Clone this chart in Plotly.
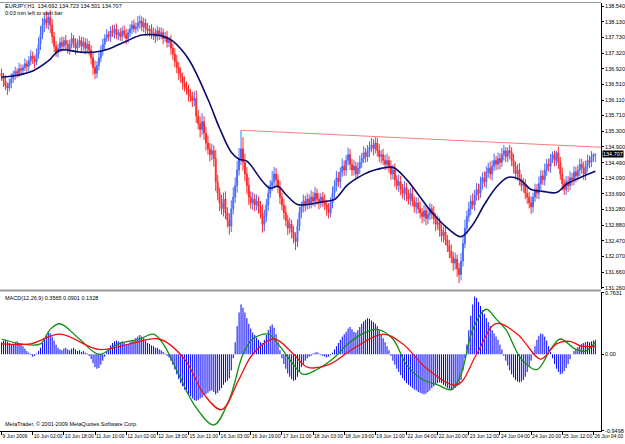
import plotly.graph_objects as go

# ---------------- data ----------------
closes = [
    136.72, 136.60, 136.48, 136.42, 136.55, 136.66, 136.78, 136.85, 136.80, 136.92,
    136.88, 136.95, 137.05, 136.98, 137.12, 137.25, 137.18, 137.10, 137.30, 137.55,
    137.80, 138.05, 138.20, 138.10, 138.25, 138.05, 137.75, 137.50, 137.35, 137.45,
    137.60, 137.50, 137.65, 137.55, 137.40, 137.55, 137.70, 137.60, 137.45, 137.55,
    137.65, 137.50, 137.60, 137.45, 137.55, 137.40, 137.20, 136.95, 136.80, 137.00,
    137.20, 137.40, 137.55, 137.70, 137.80, 137.75, 137.90, 137.85, 137.95, 137.80,
    137.85, 137.75, 137.90, 137.80, 137.70, 137.85, 137.95, 138.05, 137.95, 138.00,
    138.10, 138.15, 138.00, 138.10, 137.95, 137.90, 137.95, 137.80, 137.85, 137.75,
    137.90, 137.80, 137.85, 137.70, 137.75, 137.60, 137.65, 137.45, 137.30, 137.10,
    136.95, 136.80, 136.70, 136.55, 136.45, 136.40, 136.25, 136.20, 136.10, 136.15,
    135.70, 135.50, 135.35, 135.55, 135.25, 135.00, 134.85, 134.70, 134.80, 134.60,
    134.00, 133.70, 133.45, 133.30, 133.55, 133.20, 133.00, 132.85, 133.30, 133.60,
    133.90, 134.30, 134.60, 134.85, 134.50, 134.20, 133.90, 133.60, 133.45, 133.55,
    133.40, 133.50, 133.35, 133.20, 132.90, 133.10, 133.40, 133.70, 133.90, 134.00,
    134.20, 134.05, 133.85, 133.60, 133.40, 133.20, 133.00, 132.80, 132.90, 132.70,
    132.55, 132.45, 132.85, 133.20, 133.35, 133.50, 133.40, 133.55, 133.45, 133.60,
    133.50, 133.70, 133.55, 133.45, 133.60, 133.50, 133.40, 133.30, 133.20, 133.45,
    133.70, 133.90, 134.10, 134.00, 134.25, 134.40, 134.30, 134.55, 134.70, 134.45,
    134.30, 134.40, 134.20, 134.35, 134.50, 134.60, 134.75, 134.65, 134.80, 134.90,
    134.95, 134.85, 135.00, 134.80, 134.65, 134.70, 134.55, 134.45, 134.55, 134.40,
    134.20, 134.30, 134.05, 133.90, 134.00, 133.80, 133.70, 133.85, 133.65, 133.55,
    133.70, 133.50, 133.35, 133.45, 133.30, 133.20, 133.10, 133.25, 133.05, 133.15,
    133.30, 133.20, 133.05, 132.90, 132.95, 132.75, 132.60, 132.70, 132.50, 132.35,
    132.20, 132.05, 131.90, 132.00, 131.75, 131.60, 131.95, 132.40, 132.80, 133.10,
    133.30, 133.50, 133.40, 133.65, 133.80, 133.70, 133.95, 134.10, 134.00, 134.25,
    134.35, 134.20, 134.40, 134.55, 134.45, 134.60, 134.50, 134.70, 134.80, 134.65,
    134.80, 134.75, 134.55, 134.40, 134.20, 134.30, 134.05, 133.90, 133.95, 133.70,
    133.60, 133.45, 133.35, 133.60, 133.80, 133.70, 133.95, 134.15, 134.05, 134.30,
    134.45, 134.40, 134.60, 134.70, 134.55, 134.75, 134.50, 134.20, 133.95, 133.80,
    134.00, 133.90, 134.10, 134.05, 134.25, 134.15, 134.30, 134.45, 134.35, 134.20,
    134.40, 134.55, 134.50, 134.65, 134.692, 134.707,
]
first_open = 136.80
# upper / lower wick length of each bar, in pips (0.01 JPY)
wick_up = [
    12, 9, 15, 8, 11, 14, 9, 12, 8, 15, 11, 8, 14, 9, 12, 15, 11, 8, 14, 18,
    22, 18, 15, 21, 12, 18, 15, 12, 14, 11, 12, 15, 9, 14, 11, 12, 15, 9, 11, 14,
    12, 9, 14, 11, 15, 9, 12, 14, 18, 11, 14, 12, 15, 11, 14, 9, 12, 15, 11, 14,
    9, 12, 11, 14, 15, 9, 12, 11, 14, 12, 18, 15, 12, 14, 11, 15, 9, 12, 14, 11,
    12, 9, 14, 11, 12, 15, 9, 14, 12, 15, 18, 14, 15, 12, 17, 14, 11, 15, 12, 18,
    21, 15, 18, 22, 14, 17, 20, 15, 18, 14, 22, 18, 15, 21, 17, 20, 14, 18, 22, 26,
    21, 24, 27, 48, 30, 22, 18, 21, 15, 18, 14, 17, 12, 15, 21, 18, 15, 20, 14, 28,
    18, 15, 14, 17, 12, 15, 18, 14, 17, 12, 15, 14, 18, 15, 12, 17, 14, 15, 12, 18,
    14, 17, 12, 15, 11, 14, 18, 12, 15, 14, 17, 14, 18, 15, 12, 20, 15, 14, 18, 15,
    14, 17, 12, 15, 18, 14, 17, 12, 15, 14, 18, 15, 15, 14, 17, 12, 15, 14, 18, 12,
    15, 14, 17, 12, 18, 15, 14, 17, 12, 15, 14, 17, 12, 15, 14, 18, 12, 15, 14, 17,
    15, 12, 17, 14, 18, 12, 15, 14, 17, 12, 15, 18, 14, 17, 12, 15, 21, 18, 22, 15,
    18, 15, 20, 14, 17, 15, 18, 14, 17, 15, 14, 17, 15, 18, 12, 15, 14, 17, 15, 9,
    9, 15, 14, 17, 12, 15, 18, 14, 15, 12, 15, 14, 17, 12, 15, 14, 18, 15, 14, 17,
    14, 15, 12, 8, 10, 5, 15, 14, 17, 12, 15, 14, 17, 12, 15, 14, 12, 15, 14, 17,
    14, 15, 12, 14, 5, 1.6,
]
wick_dn = [
    11, 15, 12, 18, 9, 14, 11, 15, 12, 9, 14, 11, 9, 15, 12, 11, 14, 17, 9, 12,
    15, 12, 18, 14, 17, 21, 18, 15, 12, 14, 11, 14, 12, 15, 9, 12, 11, 14, 17, 12,
    9, 14, 11, 15, 12, 14, 17, 18, 15, 12, 12, 11, 14, 15, 9, 12, 14, 11, 15, 12,
    14, 11, 12, 9, 15, 12, 11, 14, 9, 12, 12, 15, 11, 14, 18, 12, 15, 11, 14, 17,
    11, 14, 12, 15, 9, 14, 12, 17, 15, 14, 15, 18, 14, 17, 12, 15, 18, 14, 17, 15,
    18, 15, 21, 14, 17, 20, 15, 18, 14, 21, 24, 18, 21, 15, 20, 17, 18, 22, 15, 14,
    15, 18, 14, 17, 21, 18, 22, 20, 15, 18, 17, 14, 18, 15, 22, 18, 14, 15, 12, 14,
    14, 17, 15, 18, 14, 17, 15, 18, 14, 17, 15, 22, 14, 12, 15, 14, 17, 12, 15, 14,
    12, 15, 14, 17, 12, 15, 14, 18, 15, 12, 14, 12, 15, 14, 17, 12, 15, 14, 12, 15,
    15, 14, 17, 12, 15, 14, 12, 15, 14, 17, 14, 17, 12, 15, 14, 18, 12, 15, 14, 17,
    15, 14, 18, 12, 17, 15, 14, 18, 15, 14, 17, 14, 15, 18, 12, 15, 17, 14, 18, 15,
    14, 17, 15, 18, 14, 17, 15, 18, 14, 17, 18, 15, 20, 17, 21, 22, 15, 14, 12, 15,
    14, 17, 12, 15, 14, 18, 12, 15, 14, 17, 15, 14, 17, 12, 15, 14, 18, 12, 15, 14,
    14, 17, 15, 18, 14, 17, 15, 14, 18, 15, 17, 14, 18, 15, 12, 14, 15, 17, 14, 15,
    15, 14, 17, 12, 15, 14, 17, 15, 18, 14, 14, 17, 12, 15, 14, 17, 12, 15, 14, 15,
    17, 14, 15, 12, 14, 19.1,
]

# moving average (navy line), read at sample bars
ma_idx = [0, 8, 16, 24, 30, 40, 48, 55, 64, 72, 80, 84, 88, 96, 106, 112, 118, 122,
          126, 134, 138, 142, 146, 152, 157, 166, 171, 178, 186, 193, 201, 208, 214,
          222, 230, 236, 242, 248, 254, 260, 266, 272, 278, 285, 290, 295, 305]
ma_val = [136.70, 136.75, 136.86, 137.12, 137.40, 137.35, 137.35, 137.43, 137.63,
          137.79, 137.79, 137.74, 137.63, 137.17, 136.13, 135.38, 134.76, 134.58,
          134.53, 134.01, 133.83, 133.88, 133.67, 133.41, 133.41, 133.49, 133.54,
          133.93, 134.19, 134.32, 134.37, 134.06, 133.67, 133.15, 132.76, 132.58,
          132.89, 133.41, 133.85, 134.11, 134.06, 133.80, 133.75, 133.72, 133.93,
          134.06, 134.27]

# drawn trend line
trend_idx = [123, 308]
trend_val = [135.33, 134.89]

# MACD histogram (one value per bar)
macd_hist = [
    0.15, 0.17, 0.18, 0.16, 0.14, 0.12, 0.13, 0.15, 0.16, 0.14,
    0.12, 0.10, 0.07, 0.04, 0.02, -0.01, -0.03, -0.02, 0.01, 0.04,
    0.08, 0.14, 0.20, 0.24, 0.27, 0.26, 0.22, 0.17, 0.12, 0.08,
    0.06, 0.05, 0.07, 0.08, 0.06, 0.05, 0.07, 0.08, 0.06, 0.04,
    0.05, 0.03, 0.04, 0.02, 0.01, -0.02, -0.06, -0.11, -0.16, -0.18,
    -0.17, -0.13, -0.08, -0.03, 0.03, 0.07, 0.11, 0.14, 0.16, 0.17,
    0.16, 0.15, 0.16, 0.14, 0.12, 0.13, 0.15, 0.17, 0.18, 0.20,
    0.22, 0.24, 0.22, 0.20, 0.17, 0.14, 0.13, 0.11, 0.10, 0.08,
    0.08, 0.06, 0.05, 0.03, 0.01, -0.02, -0.04, -0.08, -0.13, -0.19,
    -0.25, -0.31, -0.36, -0.40, -0.44, -0.47, -0.50, -0.52, -0.55, -0.57,
    -0.58, -0.57, -0.55, -0.54, -0.51, -0.50, -0.48, -0.46, -0.45, -0.47,
    -0.50, -0.48, -0.45, -0.42, -0.38, -0.35, -0.33, -0.30, -0.20, -0.05,
    0.15, 0.35, 0.52, 0.62, 0.58, 0.52, 0.45, 0.38, 0.32, 0.27,
    0.24, 0.21, 0.18, 0.15, 0.14, 0.18, 0.24, 0.30, 0.35, 0.37,
    0.33, 0.25, 0.15, 0.05, -0.05, -0.12, -0.18, -0.24, -0.28, -0.31,
    -0.33, -0.32, -0.28, -0.22, -0.16, -0.12, -0.08, -0.05, -0.03, -0.02,
    0.01, 0.02, 0.03, 0.01, -0.01, -0.02, -0.03, -0.04, -0.03, -0.01,
    0.02, 0.06, 0.10, 0.14, 0.18, 0.22, 0.25, 0.28, 0.32, 0.34,
    0.31, 0.28, 0.27, 0.30, 0.34, 0.38, 0.41, 0.43, 0.45, 0.44,
    0.42, 0.40, 0.38, 0.35, 0.30, 0.25, 0.20, 0.15, 0.10, 0.05,
    -0.02, -0.08, -0.13, -0.18, -0.22, -0.26, -0.30, -0.33, -0.36, -0.38,
    -0.40, -0.42, -0.44, -0.45, -0.47, -0.48, -0.49, -0.50, -0.49, -0.47,
    -0.45, -0.42, -0.40, -0.38, -0.36, -0.35, -0.36, -0.38, -0.40, -0.42,
    -0.44, -0.45, -0.44, -0.42, -0.40, -0.38, -0.32, -0.20, -0.05, 0.12,
    0.30, 0.48, 0.62, 0.72, 0.70, 0.65, 0.60, 0.55, 0.50, 0.45,
    0.40, 0.35, 0.30, 0.26, 0.22, 0.18, 0.12, 0.06, -0.02, -0.08,
    -0.14, -0.20, -0.25, -0.29, -0.32, -0.34, -0.35, -0.34, -0.32, -0.28,
    -0.22, -0.15, -0.08, 0.02, 0.10, 0.18, 0.23, 0.26, 0.25, 0.22,
    0.17, 0.10, 0.03, -0.05, -0.12, -0.18, -0.22, -0.25, -0.24, -0.21,
    -0.17, -0.12, -0.06, 0.00, 0.04, 0.07, 0.09, 0.11, 0.13, 0.14,
    0.15, 0.16, 0.15, 0.16, 0.17, 0.18,
]

# MACD lines, read at sample bars
green_idx = [0, 10, 20, 25, 30, 40, 50, 60, 71, 78, 83, 91, 99, 109, 117, 124, 129,
             137, 142, 150, 155, 162, 170, 178, 185, 193, 201, 208, 216, 224, 231,
             236, 242, 249, 254, 259, 267, 275, 282, 287, 295, 300, 305]
green_val = [0.19, 0.13, 0.13, 0.31, 0.38, 0.19, 0.00, 0.13, 0.19, 0.25, 0.13, -0.25,
             -0.63, -0.88, -0.56, 0.00, 0.19, 0.25, 0.13, -0.13, -0.25, -0.19, -0.06,
             0.13, 0.25, 0.31, 0.19, -0.13, -0.31, -0.38, -0.44, -0.25, 0.31, 0.56,
             0.44, 0.31, -0.06, -0.19, 0.06, 0.19, 0.06, 0.04, 0.15]
red_idx = [0, 15, 30, 50, 66, 81, 94, 104, 113, 122, 129, 140, 150, 157, 168, 180,
           196, 206, 219, 234, 244, 254, 265, 277, 285, 292, 298, 305]
red_val = [0.13, 0.13, 0.25, 0.06, 0.13, 0.19, -0.06, -0.50, -0.69, -0.31, 0.00,
           0.19, 0.00, -0.16, -0.13, 0.06, 0.25, 0.13, -0.19, -0.38, 0.00, 0.38,
           0.25, -0.06, 0.13, 0.16, 0.10, 0.10]

price_ticks = [138.540, 138.130, 137.730, 137.320, 136.920, 136.510, 136.110, 135.710,
               135.300, 134.900, 134.490, 134.090, 133.690, 133.280, 132.880, 132.470,
               132.070, 131.660, 131.260]
macd_ticks = [0.7631, 0.0, -0.9498]
macd_tick_text = ["0.7631", "0.00", "-0.9498"]
time_labels = ["9 Jun 2009", "10 Jun 02:00", "10 Jun 18:00", "11 Jun 10:00",
               "12 Jun 02:00", "12 Jun 18:00", "15 Jun 11:00", "16 Jun 03:00",
               "16 Jun 19:00", "17 Jun 11:00", "18 Jun 03:00", "18 Jun 19:00",
               "19 Jun 11:00", "22 Jun 04:00", "22 Jun 20:00", "23 Jun 12:00",
               "24 Jun 04:00", "24 Jun 20:00", "25 Jun 12:00", "26 Jun 04:00"]
label_step = 16
header_text = "EURJPY,H1  134.692 134.723 134.501 134.707"
timer_text = "0:03 min left to next bar"
macd_text = "MACD(12,26,9) 0.3565 0.0901 0.1328"
copyright_text = "MetaTrader, \u00a9 2001-2009 MetaQuotes Software Corp."
last_price = closes[-1]

# ---------------- layout geometry (pixels) ----------------
W, H = 625, 444
PR = 605           # right edge of plot area
PT, PB = 2, 431    # top / bottom of plot area
MAIN_T, MAIN_B = 3, 289
MACD_T, MACD_B = 292, 431
FONT = "Liberation Sans"


def yf(py):
    return (PB - py) / (PB - PT)


def xf(px):
    return px / PR


n = len(closes)
idx = list(range(n))
opens = [first_open] + closes[:-1]
highs = [max(o, c) + u / 100 for o, c, u in zip(opens, closes, wick_up)]
lows = [min(o, c) - d / 100 for o, c, d in zip(opens, closes, wick_dn)]

# histogram drawn as thin vertical strokes (one per bar)
hx, hy = [], []
for i, v in zip(idx, macd_hist):
    hx += [i, i, None]
    hy += [0, v, None]

fig = go.Figure()
fig.add_trace(go.Candlestick(
    x=idx, open=opens, high=highs, low=lows, close=closes,
    increasing=dict(line=dict(color="#4a6cff", width=1), fillcolor="#4a6cff"),
    decreasing=dict(line=dict(color="#ff2a2a", width=1), fillcolor="#ff2a2a"),
    whiskerwidth=0, showlegend=False, hoverinfo="skip", xaxis="x", yaxis="y"))
fig.add_trace(go.Scatter(x=trend_idx, y=trend_val, mode="lines",
                         line=dict(color="#ff7b7b", width=1), showlegend=False,
                         hoverinfo="skip", xaxis="x", yaxis="y"))
fig.add_trace(go.Scatter(x=ma_idx, y=ma_val, mode="lines",
                         line=dict(color="#0b0b6e", width=1.6, shape="spline"),
                         showlegend=False, hoverinfo="skip", xaxis="x", yaxis="y"))
fig.add_trace(go.Scatter(x=hx, y=hy, mode="lines",
                         line=dict(color="#0000ff", width=1),
                         showlegend=False, hoverinfo="skip", xaxis="x", yaxis="y2"))
fig.add_trace(go.Scatter(x=green_idx, y=green_val, mode="lines",
                         line=dict(color="#109010", width=1.3, shape="spline"),
                         showlegend=False, hoverinfo="skip", xaxis="x", yaxis="y2"))
fig.add_trace(go.Scatter(x=red_idx, y=red_val, mode="lines",
                         line=dict(color="#ee1111", width=1.3, shape="spline"),
                         showlegend=False, hoverinfo="skip", xaxis="x", yaxis="y2"))

main_lo = price_ticks[0] - (MAIN_B - 6) / 38.7
main_hi = price_ticks[0] + (6 - MAIN_T) / 38.7

tickfont = dict(family=FONT, size=5.5, color="#000000")
xtickfont = dict(family=FONT, size=5, color="#000000")
fig.update_layout(
    width=W, height=H, margin=dict(l=0, r=W - PR, t=PT, b=H - PB),
    paper_bgcolor="white", plot_bgcolor="white",
    xaxis=dict(domain=[0, 1], range=[-0.8, 307.9], anchor="y2",
               showgrid=False, zeroline=False, showline=True, linecolor="#000000",
               linewidth=1, ticks="outside", ticklen=3, tickcolor="#000000",
               tickvals=[i * label_step for i in range(len(time_labels))],
               ticktext=time_labels, ticklabelposition="outside right",
               tickangle=0, tickfont=xtickfont, rangeslider=dict(visible=False)),
    yaxis=dict(domain=[yf(MAIN_B), yf(MAIN_T)], range=[main_lo, main_hi],
               side="right", anchor="x", showgrid=False, zeroline=False,
               showline=True, linecolor="#000000", linewidth=1, ticks="outside",
               ticklen=2, tickcolor="#000000", tickvals=price_ticks,
               ticktext=["%.3f" % v for v in price_ticks], tickfont=tickfont),
    yaxis2=dict(domain=[yf(MACD_B), yf(MACD_T)], range=[-0.955, 0.775],
                side="right", anchor="x", showgrid=False, zeroline=False,
                showline=True, linecolor="#000000", linewidth=1, ticks="outside",
                ticklen=2, tickcolor="#000000", tickvals=macd_ticks,
                ticktext=macd_tick_text, tickfont=tickfont),
)

# panel borders
fig.add_shape(type="line", xref="paper", yref="paper", x0=0, x1=1,
              y0=yf(290.5), y1=yf(290.5), line=dict(color="#9a9a9a", width=2))
fig.add_shape(type="line", xref="paper", yref="paper", x0=0, x1=1,
              y0=yf(2.5), y1=yf(2.5), line=dict(color="#9a9a9a", width=1))

txt = dict(family=FONT, size=5.5, color="#000000")
for text, px, py in [(header_text, 3, 6), (timer_text, 3, 13), (macd_text, 3, 298),
                     (copyright_text, 3, 424)]:
    fig.add_annotation(text=text, xref="paper", yref="paper", x=xf(px), y=yf(py),
                       xanchor="left", yanchor="middle", showarrow=False, font=txt)

fig.add_annotation(text="%.3f" % last_price, xref="paper", yref="y", x=1, y=last_price,
                   xanchor="left", yanchor="middle", xshift=1, showarrow=False,
                   bgcolor="#000000", font=dict(family=FONT, size=5.5, color="#ffffff"),
                   borderpad=0)

fig.write_html("out.html")
